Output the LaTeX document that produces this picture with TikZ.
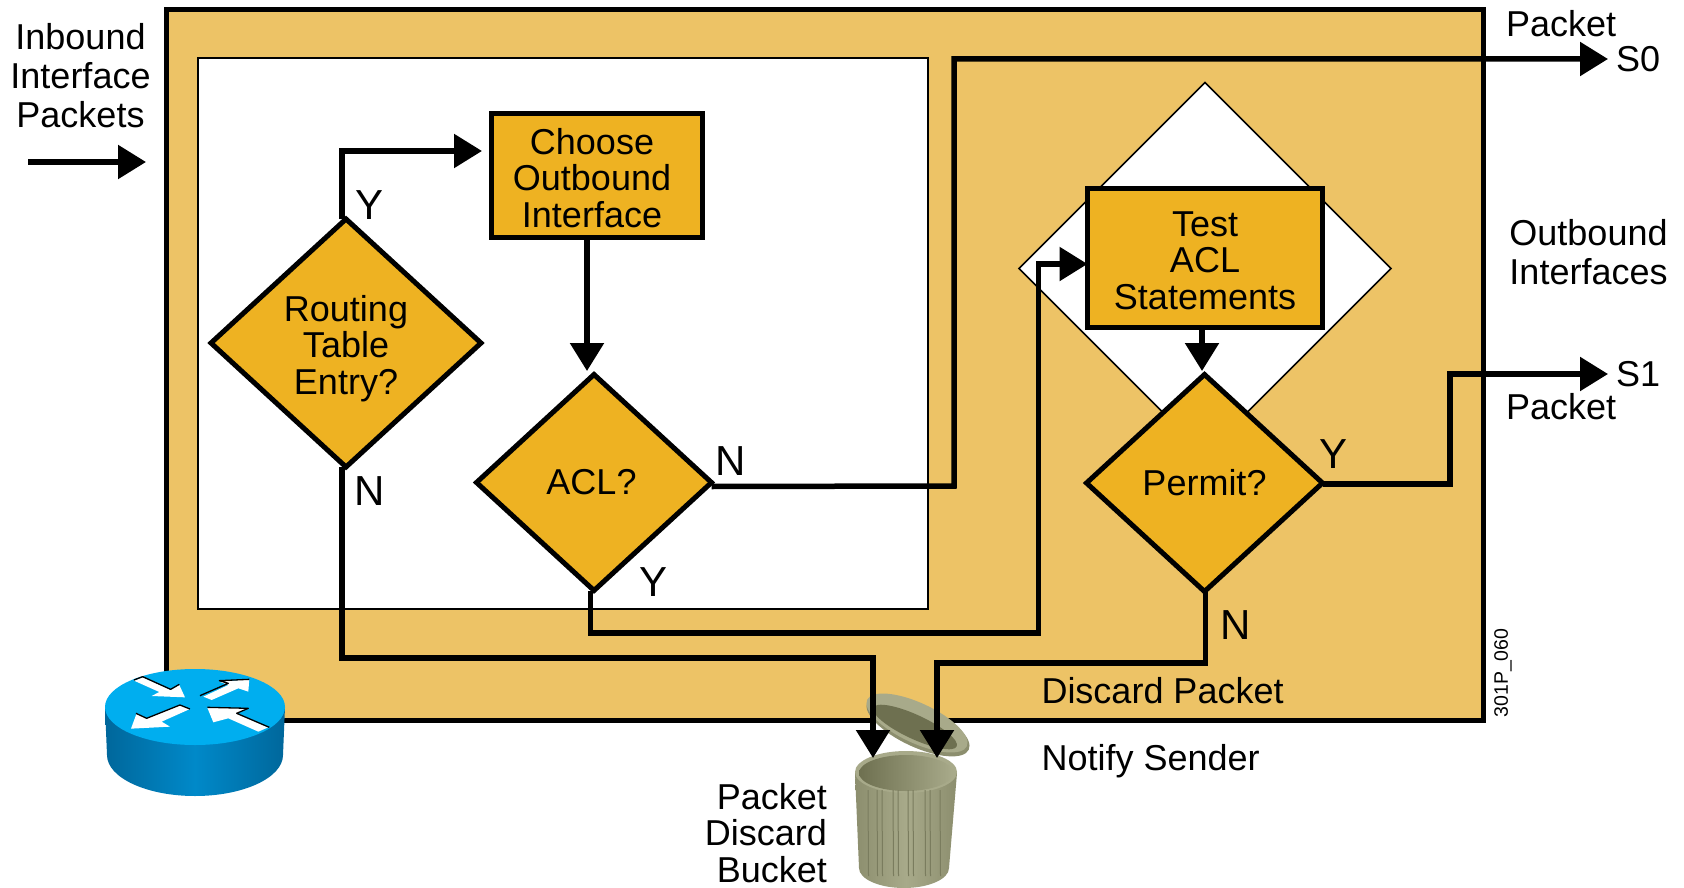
\documentclass[tikz,border=0pt]{standalone}
\usepackage{fontspec}
\setmainfont{Liberation Sans}
\usetikzlibrary{shapes.geometric,arrows.meta}
\definecolor{panel}{HTML}{EDC366}
\definecolor{gold}{HTML}{EEB222}
\definecolor{routertop}{HTML}{00AEEF}
\definecolor{routerd}{HTML}{00679B}
\definecolor{routerm}{HTML}{0089C9}
\definecolor{binl}{HTML}{8C8E6E}
\definecolor{binm}{HTML}{A8AA8A}
\definecolor{bind}{HTML}{6E7050}
\definecolor{binrib}{HTML}{7A7C5E}
\tikzset{
  txt/.style={font=\fontsize{36}{39}\selectfont,align=center,inner sep=0pt,outer sep=0pt},
  tin/.style={font=\fontsize{36}{36.5}\selectfont,align=center,inner sep=0pt,outer sep=0pt},
  yn/.style={font=\fontsize{42}{44}\selectfont,inner sep=0pt,outer sep=0pt},
  gbox/.style={tin,rectangle,draw=black,line width=5pt,fill=gold,outer sep=0pt},
  gdia/.style={tin,diamond,draw=black,line width=5pt,fill=gold,outer sep=0pt,aspect=1.09},
  conn/.style={draw=black,line width=5.5pt,-{Triangle[length=28pt,width=33pt]}},
  rarrow/.style={fill=white,draw=none},
  rshadow/.style={draw=black,line width=1.3pt,fill=none,line join=round},
  rib/.style={draw=binrib,line width=1pt}
}
\begin{document}
\begin{tikzpicture}[x=1pt,y=-1pt]
\useasboundingbox (0,0) rectangle (1684,888);
\fill[white] (0,0) rectangle (1684,888);

% frames
\node[rectangle,draw=black,line width=5pt,fill=panel,minimum width=1317pt,minimum height=710pt,inner sep=0pt] (frame) at (824.5,365) {};
\node[rectangle,draw=black,line width=1.5pt,fill=white,minimum width=730pt,minimum height=551pt,inner sep=0pt] (inner) at (563,333.5) {};
\node[diamond,draw=black,line width=1.5pt,fill=white,minimum width=372pt,minimum height=372pt,inner sep=0pt,outer sep=0pt] (halo) at (1205,268.5) {};

% router
\shade[left color=routerd,right color=routerd,middle color=routerm]
  (105,707) -- (107,755) arc[start angle=180,end angle=360,x radius=88pt,y radius=41pt] -- (285,707) -- cycle;
\fill[routertop] (195,707) ellipse [x radius=90pt,y radius=38pt];
\begin{scope}[shift={(60,640)},x=0.3333pt,y=-0.3333pt]
  \fill[rarrow] (222,122) -- (248,112) -- (332,150) -- (358,135) -- (375,172) -- (275,168) -- (298,156) -- cycle;
  \draw[rshadow] (222,120) -- (248,110) -- (332,148) -- (358,133);
  \fill[rarrow] (430,170) -- (455,180) -- (535,145) -- (565,155) -- (568,118) -- (478,125) -- (505,135) -- cycle;
  \draw[rshadow] (420,167) -- (505,130) -- (478,122) -- (568,118);
  \fill[rarrow] (360,195) -- (390,207) -- (305,245) -- (330,260) -- (213,266) -- (230,220) -- (260,235) -- cycle;
  \draw[rshadow] (228,220) -- (260,235) -- (360,195) -- (390,207);
  \fill[rarrow] (442,203) -- (565,205) -- (532,220) -- (625,262) -- (595,275) -- (505,235) -- (460,247) -- cycle;
  \draw[rshadow] (442,202) -- (565,205) -- (530,220) -- (628,262);
\end{scope}

% trash can
\fill[binl,rotate around={-25:(918,726)}] (918,726) ellipse [x radius=56pt,y radius=21pt];
\fill[binm,rotate around={-25:(917,723)}] (917,723) ellipse [x radius=55pt,y radius=20pt];
\fill[bind,rotate around={-25:(915,727)}] (915,727) ellipse [x radius=46pt,y radius=12pt];
\shade[left color=binl,right color=binl,middle color=binm]
  (855,773) -- (859,868) arc[start angle=180,end angle=360,x radius=45pt,y radius=20pt] -- (957,773) -- cycle;
\fill[binm] (906,772) ellipse [x radius=51pt,y radius=21pt];
\shade[left color=bind,right color=binm] (906,773) ellipse [x radius=47pt,y radius=18pt];
\foreach \xx in {868,877,882,893,898,908,913,925,930,940}{
  \draw[rib] (\xx,790) -- (\xx+0.5,876);
}

% decision and process nodes
\node[gdia,minimum width=270pt,minimum height=248pt,label={[tin,yshift=-5.5pt]center:Routing\\Table\\Entry?}] (routing) at (346,343) {};
\node[gbox,minimum width=211pt,minimum height=124pt,label={[tin,xshift=-5pt,yshift=-2pt]center:Choose\\Outbound\\Interface}] (choose) at (597,175.7) {};
\node[gdia,minimum width=235pt,minimum height=216pt,label={[tin,xshift=-2.5pt]center:ACL?}] (acl) at (594,482.5) {};
\node[gbox,minimum width=235pt,minimum height=139pt,label={[tin,yshift=-3pt]center:Test\\ACL\\Statements}] (test) at (1205,257.5) {};
\node[gdia,minimum width=236pt,minimum height=217pt] (permit) at (1204.5,483) {Permit?};

% free ends
\coordinate (in0) at (28,162);
\coordinate (in1) at (146,162);
\coordinate (chin) at (482,151);
\coordinate (acln) at (587,371);
\coordinate (permn) at (1202,371);
\coordinate (s0) at (1608,59);
\coordinate (s1) at (1608,374);
\coordinate (bin1) at (873,758);
\coordinate (bin2) at (937,758);

% connectors
\draw[conn] (in0) -- (in1);
\draw[conn] ([xshift=-4pt]routing.north) |- (chin);
\draw[conn] ([xshift=-4pt]routing.south) -- ([xshift=-4pt]routing.south |- 0,658) -| (bin1);
\draw[conn] (choose.south -| acln) -- (acln);
\draw[conn] ([yshift=-4pt]acl.east) -- (954,486) -- (954,59) -- (s0);
\draw[conn] ([xshift=-3.5pt]acl.south) -- ([xshift=-3.5pt]acl.south |- 0,633) -- (1038.5,633) -- (1038.5,264) -- (test.west |- 0,264);
\draw[conn] (test.south -| permn) -- (permn);
\draw[conn] ([yshift=-1pt]permit.east) -- (1450,484) -- (1450,374) -- (s1);
\draw[conn] ([xshift=1pt]permit.south) -- ([xshift=1pt]permit.south |- 0,663) -| (bin2);

% labels
\node[txt] (lin) at (80.5,76) {Inbound\\Interface\\Packets};
\node[txt,anchor=west] (lp0) at (1506,24) {Packet};
\node[txt,anchor=west] (ls0) at (1616,59) {S0};
\node[txt] (lout) at (1588.5,252.5) {Outbound\\Interfaces};
\node[txt,anchor=west] (ls1) at (1616,374) {S1};
\node[txt,anchor=west] (lp1) at (1506,407) {Packet};
\node[yn] (y1) at (370,205) {Y};
\node[yn] (n1) at (370,491) {N};
\node[yn] (y2) at (653,582) {Y};
\node[yn] (n2) at (731,461) {N};
\node[yn] (y3) at (1333,454) {Y};
\node[yn] (n3) at (1236,625) {N};
\node[txt,anchor=west] (ldisc) at (1041.5,690.5) {Discard Packet};
\node[txt,anchor=west] (lnot) at (1041.5,761) {Notify Sender};
\node[txt,anchor=east,align=right,font=\fontsize{36}{36.5}\selectfont] (lbuck) at (827,833) {Packet\\Discard\\Bucket};
\node[font=\fontsize{19.5}{20}\selectfont,rotate=90,inner sep=0pt] (lcode) at (1503,673) {301P\_060};
\end{tikzpicture}
\end{document}
